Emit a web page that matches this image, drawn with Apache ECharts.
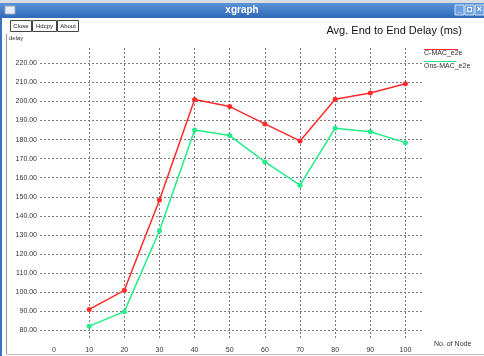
<!DOCTYPE html>
<html>
<head>
<meta charset="utf-8">
<script src="https://cdn.jsdelivr.net/npm/echarts@6/dist/echarts.min.js"></script>
<style>
  html, body { margin: 0; padding: 0; background: #ffffff; }
  #chart { width: 484px; height: 356px; }
</style>
</head>
<body>
<div id="chart"></div>
<script>
// Number of nodes on the x axis
const nodes = [10, 20, 30, 40, 50, 60, 70, 80, 90, 100];
// Average end-to-end delay (ms) per protocol
const cmacDelay = [91, 101, 148.3, 201, 197.3, 188.2, 179.3, 201.1, 204.4, 209.3];
const onsmacDelay = [82.2, 89.8, 132.2, 185, 182.1, 168.3, 156.1, 186, 184.1, 178.4];
// Tick labels
const xTickValues = [0, 10, 20, 30, 40, 50, 60, 70, 80, 90, 100];
const xGridValues = [10, 20, 30, 40, 50, 60, 70, 80, 90, 100];
const yTickValues = [80, 90, 100, 110, 120, 130, 140, 150, 160, 170, 180, 190, 200, 210, 220];

const seriesNames = ['C-MAC_e2e', 'Ons-MAC_e2e'];
const seriesColors = ['#ff2a2a', '#22ee88'];

const pair = (xs, ys) => xs.map((x, i) => [x, ys[i]]);

const chart = echarts.init(document.getElementById('chart'), null, { renderer: 'canvas' });

const gridLine = { show: true, lineStyle: { color: '#7a7a7a', type: [2, 2], width: 1 } };
const font = 'Liberation Sans, Arial, sans-serif';

chart.setOption({
  animation: false,
  backgroundColor: '#ffffff',
  grid: { left: 40, right: 61, top: 48, bottom: 18, containLabel: false },
  xAxis: {
    type: 'value',
    min: -4,
    max: 105,
    axisLine: { show: false },
    axisTick: { show: false, customValues: xGridValues },
    splitLine: gridLine,
    axisLabel: {
      customValues: xTickValues,
      margin: 9,
      fontSize: 7,
      color: '#333',
      fontFamily: font
    }
  },
  yAxis: {
    type: 'value',
    min: 76,
    max: 228,
    axisLine: { show: false },
    axisTick: { show: true, length: 2, customValues: yTickValues, lineStyle: { color: '#666' } },
    splitLine: gridLine,
    axisLabel: {
      customValues: yTickValues,
      margin: 3,
      fontSize: 7,
      color: '#333',
      fontFamily: font,
      formatter: v => v.toFixed(2)
    }
  },
  graphic: [
    // window frame
    { type: 'rect', shape: { x: 0, y: 0, width: 484, height: 3 }, style: { fill: '#d8dde4' }, silent: true },
    { type: 'rect', shape: { x: 0, y: 3, width: 484, height: 15 },
      style: { fill: new echarts.graphic.LinearGradient(0, 0, 0, 1, [
        { offset: 0, color: '#5b93d8' }, { offset: 1, color: '#2f68b8' }]) }, silent: true },
    { type: 'rect', shape: { x: 0, y: 18, width: 2, height: 338 }, style: { fill: '#3a72c0' }, silent: true },
    { type: 'rect', shape: { x: 5, y: 6, width: 10, height: 8 }, style: { fill: '#e8eef8', stroke: '#9ab', lineWidth: 1 }, silent: true },
    { type: 'text', x: 242, y: 10, style: { text: 'xgraph', fill: '#ffffff', font: 'bold 10px ' + font, align: 'center', verticalAlign: 'middle' }, silent: true },
    { type: 'rect', shape: { x: 455, y: 5, width: 9, height: 10 }, style: { fill: '#6aa0e0', stroke: '#cfe0f5', lineWidth: 1 }, silent: true },
    { type: 'rect', shape: { x: 465, y: 5, width: 9, height: 10 }, style: { fill: '#6aa0e0', stroke: '#cfe0f5', lineWidth: 1 }, silent: true },
    { type: 'rect', shape: { x: 475, y: 5, width: 9, height: 10 }, style: { fill: '#6aa0e0', stroke: '#cfe0f5', lineWidth: 1 }, silent: true },
    { type: 'text', x: 459.5, y: 10, style: { text: '_', fill: '#fff', font: 'bold 8px ' + font, align: 'center', verticalAlign: 'middle' }, silent: true },
    { type: 'text', x: 479.5, y: 10, style: { text: '×', fill: '#fff', font: 'bold 9px ' + font, align: 'center', verticalAlign: 'middle' }, silent: true },
    { type: 'rect', shape: { x: 467.5, y: 7.5, width: 4, height: 4 }, style: { fill: 'none', stroke: '#fff', lineWidth: 1 }, silent: true },
    // plot panel border
    { type: 'line', shape: { x1: 6.5, y1: 34, x2: 6.5, y2: 354 }, style: { stroke: '#999', lineWidth: 1 }, silent: true },
    { type: 'line', shape: { x1: 6.5, y1: 354.5, x2: 484, y2: 354.5 }, style: { stroke: '#bbb', lineWidth: 1 }, silent: true },
    // buttons
    { type: 'rect', shape: { x: 10.5, y: 20.5, width: 21, height: 11 }, style: { fill: '#fff', stroke: '#444', lineWidth: 1 }, silent: true },
    { type: 'text', x: 21, y: 26.5, style: { text: 'Close', fill: '#222', font: '6px ' + font, align: 'center', verticalAlign: 'middle' }, silent: true },
    { type: 'rect', shape: { x: 32.5, y: 20.5, width: 24, height: 11 }, style: { fill: '#fff', stroke: '#444', lineWidth: 1 }, silent: true },
    { type: 'text', x: 44.5, y: 26.5, style: { text: 'Hdcpy', fill: '#222', font: '6px ' + font, align: 'center', verticalAlign: 'middle' }, silent: true },
    { type: 'rect', shape: { x: 57.5, y: 20.5, width: 21, height: 11 }, style: { fill: '#fff', stroke: '#444', lineWidth: 1 }, silent: true },
    { type: 'text', x: 68, y: 26.5, style: { text: 'About', fill: '#222', font: '6px ' + font, align: 'center', verticalAlign: 'middle' }, silent: true },
    // axis titles
    { type: 'text', x: 9, y: 38, style: { text: 'delay', fill: '#333', font: '6px ' + font, verticalAlign: 'middle' }, silent: true },
    { type: 'text', x: 434, y: 344, style: { text: 'No. of Node', fill: '#333', font: '7px ' + font, verticalAlign: 'middle' }, silent: true },
    // chart title
    { type: 'text', x: 462, y: 31, style: { text: 'Avg. End to End Delay (ms)', fill: '#111', font: '11px ' + font, align: 'right', verticalAlign: 'middle' }, silent: true },
    // legend
    { type: 'rect', shape: { x: 424, y: 49, width: 34, height: 1 }, style: { fill: seriesColors[0] }, silent: true },
    { type: 'text', x: 424, y: 53.5, style: { text: seriesNames[0], fill: '#333', font: '7px ' + font, verticalAlign: 'middle' }, silent: true },
    { type: 'rect', shape: { x: 424, y: 61, width: 32, height: 1 }, style: { fill: seriesColors[1] }, silent: true },
    { type: 'text', x: 424, y: 66, style: { text: seriesNames[1], fill: '#333', font: '7px ' + font, verticalAlign: 'middle' }, silent: true }
  ],
  series: [
    {
      name: seriesNames[0],
      type: 'line',
      data: pair(nodes, cmacDelay),
      symbol: 'circle',
      symbolSize: 5,
      lineStyle: { color: seriesColors[0], width: 1.5 },
      itemStyle: { color: seriesColors[0] },
      z: 3
    },
    {
      name: seriesNames[1],
      type: 'line',
      data: pair(nodes, onsmacDelay),
      symbol: 'circle',
      symbolSize: 5,
      lineStyle: { color: seriesColors[1], width: 1.5 },
      itemStyle: { color: seriesColors[1] },
      z: 2
    }
  ]
});
</script>
</body>
</html>
